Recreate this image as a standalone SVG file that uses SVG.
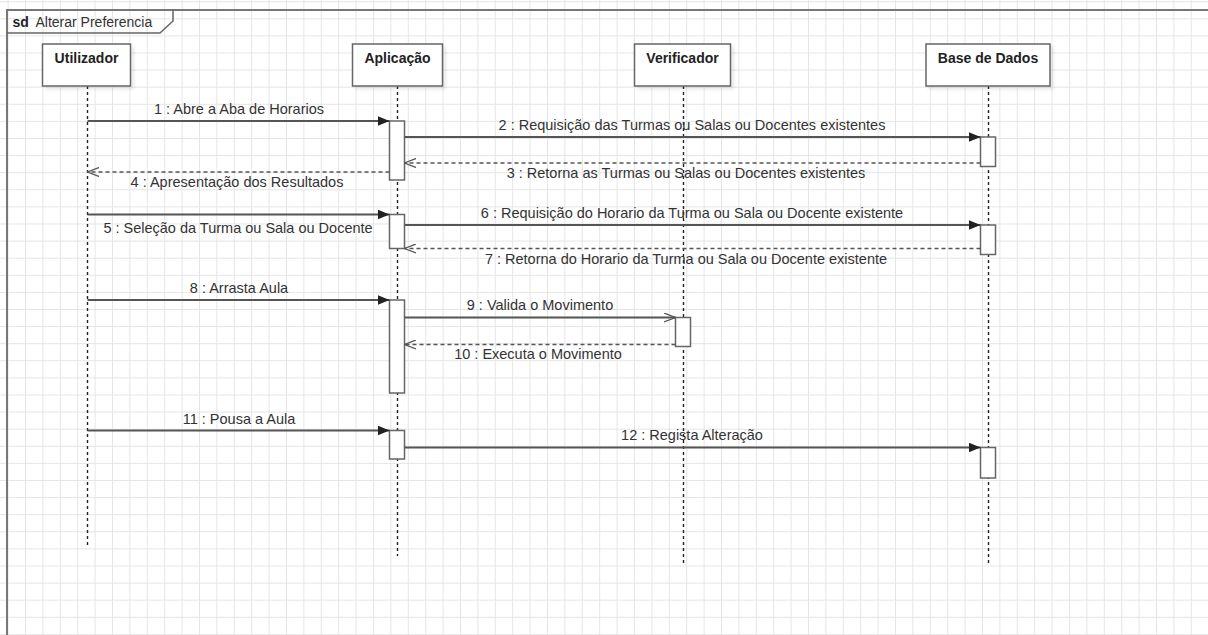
<svg xmlns="http://www.w3.org/2000/svg" width="1208" height="635" viewBox="0 0 1208 635">
<defs>
<pattern id="grid" x="7.6" y="1.2" width="17.4" height="17.1" patternUnits="userSpaceOnUse">
<path d="M0,0 H17.4 M0,0 V17.1" fill="none" stroke="#e4e4e4" stroke-width="1.8"/>
</pattern>
<marker id="filled" markerWidth="12" markerHeight="10" refX="12" refY="5" orient="auto" markerUnits="userSpaceOnUse">
<path d="M0,0 L12,5 L0,10 Z" fill="#222"/>
</marker>
<marker id="open" markerWidth="12" markerHeight="10" refX="11.5" refY="5" orient="auto" markerUnits="userSpaceOnUse">
<path d="M0,0.5 L11.5,5 L0,9.5" fill="none" stroke="#555" stroke-width="1.3"/>
</marker>
<filter id="sh" x="-10%" y="-10%" width="130%" height="140%">
<feDropShadow dx="3" dy="3" stdDeviation="1.5" flood-color="#000" flood-opacity="0.08"/>
</filter>
</defs>
<style>
.txt{font-family:"Liberation Sans",Arial,sans-serif;font-size:14.5px;fill:#333}
.hd{font-family:"Liberation Sans",Arial,sans-serif;font-size:14px;font-weight:bold;fill:#222}
.head{fill:#fff;stroke:#666;stroke-width:1.5}
.life{stroke:#222;stroke-width:1.4;stroke-dasharray:3,3;fill:none}
.act{fill:#fff;stroke:#666;stroke-width:1.5}
.msg{stroke:#555;stroke-width:1.8;fill:none}
.ret{stroke:#555;stroke-width:1.5;stroke-dasharray:4,3;fill:none}
</style>
<rect width="1208" height="635" fill="#fff"/>
<rect width="1208" height="635" fill="url(#grid)"/>
<g id="frame">
<path d="M7,640 V10 H1210" fill="none" stroke="#777" stroke-width="2"/>
<path d="M7,33 H160 L173,21 V10" fill="none" stroke="#666" stroke-width="1.5"/>
<text x="12.5" y="27" class="txt" style="font-weight:bold;fill:#222;font-size:14px">sd</text>
<text x="35.5" y="27" class="txt" style="font-size:14px">Alterar Preferencia</text>
</g>
<g id="lifelines">
<line class="life" x1="87.5" y1="86" x2="87.5" y2="546"/>
<line class="life" x1="397.5" y1="86" x2="397.5" y2="556"/>
<line class="life" x1="683.5" y1="86" x2="683.5" y2="566"/>
<line class="life" x1="988.5" y1="86" x2="988.5" y2="566"/>
</g>
<g id="utilizador">
<rect class="head" x="42.5" y="44" width="88" height="42" filter="url(#sh)"/>
<text class="hd" x="86.5" y="63" text-anchor="middle">Utilizador</text>
</g>
<g id="aplicacao">
<rect class="head" x="352.5" y="44" width="90" height="42" filter="url(#sh)"/>
<text class="hd" x="397.5" y="63" text-anchor="middle">Aplicação</text>
</g>
<g id="verificador">
<rect class="head" x="634.5" y="44" width="96" height="42" filter="url(#sh)"/>
<text class="hd" x="682.5" y="63" text-anchor="middle">Verificador</text>
</g>
<g id="basededados">
<rect class="head" x="926" y="44" width="124" height="42" filter="url(#sh)"/>
<text class="hd" x="988" y="63" text-anchor="middle">Base de Dados</text>
</g>
<g id="activations">
<rect class="act" x="389.5" y="121" width="15" height="59"/>
<rect class="act" x="980.5" y="137" width="15" height="29.5"/>
<rect class="act" x="389.5" y="214.5" width="15" height="34"/>
<rect class="act" x="980.5" y="225" width="15" height="29.5"/>
<rect class="act" x="389.5" y="300" width="15" height="93"/>
<rect class="act" x="675.5" y="317.5" width="15" height="29"/>
<rect class="act" x="389.5" y="430.5" width="15" height="28.5"/>
<rect class="act" x="980.5" y="447.5" width="15" height="30.5"/>
</g>
<g id="connectors">
<line class="msg" x1="87.5" y1="121" x2="389.5" y2="121" marker-end="url(#filled)"/>
<line class="msg" x1="404.5" y1="137" x2="980.5" y2="137" marker-end="url(#filled)"/>
<line class="ret" x1="980.5" y1="163" x2="404.5" y2="163" marker-end="url(#open)"/>
<line class="ret" x1="389.5" y1="172" x2="87.5" y2="172" marker-end="url(#open)"/>
<line class="msg" x1="87.5" y1="214.5" x2="389.5" y2="214.5" marker-end="url(#filled)"/>
<line class="msg" x1="404.5" y1="225" x2="980.5" y2="225" marker-end="url(#filled)"/>
<line class="ret" x1="980.5" y1="248.5" x2="404.5" y2="248.5" marker-end="url(#open)"/>
<line class="msg" x1="87.5" y1="300" x2="389.5" y2="300" marker-end="url(#filled)"/>
<line class="msg" x1="404.5" y1="317.5" x2="675.5" y2="317.5" marker-end="url(#open)"/>
<line class="ret" x1="675.5" y1="344.5" x2="404.5" y2="344.5" marker-end="url(#open)"/>
<line class="msg" x1="87.5" y1="430.5" x2="389.5" y2="430.5" marker-end="url(#filled)"/>
<line class="msg" x1="404.5" y1="447.5" x2="980.5" y2="447.5" marker-end="url(#filled)"/>
</g>
<g id="labels">
<text class="txt" x="239" y="114" text-anchor="middle">1 : Abre a Aba de Horarios</text>
<text class="txt" x="692" y="130" text-anchor="middle">2 : Requisição das Turmas ou Salas ou Docentes existentes</text>
<text class="txt" x="686" y="178" text-anchor="middle">3 : Retorna as Turmas ou Salas ou Docentes existentes</text>
<text class="txt" x="237" y="187" text-anchor="middle">4 : Apresentação dos Resultados</text>
<text class="txt" x="238" y="233" text-anchor="middle">5 : Seleção da Turma ou Sala ou Docente</text>
<text class="txt" x="692" y="218" text-anchor="middle">6 : Requisição do Horario da Turma ou Sala ou Docente existente</text>
<text class="txt" x="686" y="264" text-anchor="middle">7 : Retorna do Horario da Turma ou Sala ou Docente existente</text>
<text class="txt" x="239" y="293" text-anchor="middle">8 : Arrasta Aula</text>
<text class="txt" x="540" y="310" text-anchor="middle">9 : Valida o Movimento</text>
<text class="txt" x="538" y="359" text-anchor="middle">10 : Executa o Movimento</text>
<text class="txt" x="239" y="424" text-anchor="middle">11 : Pousa a Aula</text>
<text class="txt" x="692" y="440" text-anchor="middle">12 : Regista Alteração</text>
</g>
</svg>
